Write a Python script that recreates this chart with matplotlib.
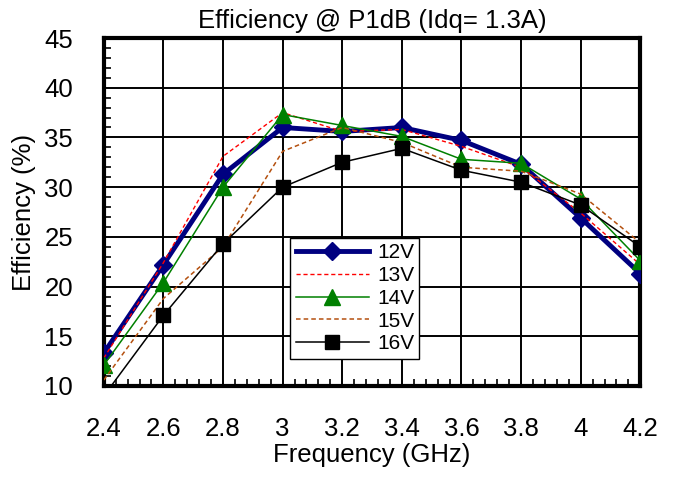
import matplotlib
matplotlib.use("Agg")
import matplotlib.pyplot as plt
from matplotlib.ticker import MultipleLocator

plt.rcParams['font.family'] = ['Liberation Sans', 'DejaVu Sans']

freq = [2.4, 2.6, 2.8, 3.0, 3.2, 3.4, 3.6, 3.8, 4.0, 4.2]
eff_12v = [13.3, 22.2, 31.3, 36.0, 35.6, 36.0, 34.7, 32.3, 26.9, 21.3]
eff_13v = [12.8, 22.4, 33.1, 37.5, 35.6, 35.8, 34.1, 32.0, 27.4, 22.2]
eff_14v = [12.1, 20.4, 30.0, 37.3, 36.2, 35.1, 32.8, 32.4, 28.8, 22.6]
eff_15v = [10.6, 18.8, 24.0, 33.6, 36.0, 34.5, 32.0, 31.6, 29.3, 24.4]
eff_16v = [9.0, 17.1, 24.3, 30.0, 32.5, 33.9, 31.7, 30.5, 28.2, 24.0]
labels = ['12V', '13V', '14V', '15V', '16V']
xticks = [2.4, 2.6, 2.8, 3.0, 3.2, 3.4, 3.6, 3.8, 4.0, 4.2]
xticklabels = ['2.4', '2.6', '2.8', '3', '3.2', '3.4', '3.6', '3.8', '4', '4.2']
yticks = [10, 15, 20, 25, 30, 35, 40, 45]

fig = plt.figure(figsize=(6.74, 4.78), dpi=100)
ax = fig.add_axes([0.154, 0.1925, 0.796, 0.728])

ax.plot(freq, eff_12v, color='#000080', lw=3.5, marker='D', ms=9.5,
        label=labels[0], zorder=3)
ax.plot(freq, eff_13v, color='#FF0000', lw=1.0, ls=(0, (3, 2)),
        label=labels[1], zorder=4)
ax.plot(freq, eff_14v, color='#008000', lw=1.1, marker='^', ms=12,
        label=labels[2], zorder=5)
ax.plot(freq, eff_15v, color='#B4500F', lw=1.1, ls=(0, (3, 2)),
        label=labels[3], zorder=6)
ax.plot(freq, eff_16v, color='#000000', lw=1.1, marker='s', ms=9.5,
        label=labels[4], zorder=7)

ax.set_xlim(2.4, 4.2)
ax.set_ylim(10, 45)
ax.set_xticks(xticks)
ax.set_xticklabels(xticklabels)
ax.set_yticks(yticks)
ax.xaxis.set_minor_locator(MultipleLocator(0.04))
ax.yaxis.set_minor_locator(MultipleLocator(1))
ax.tick_params(axis='both', which='major', length=0, labelsize=18.5)
ax.tick_params(axis='x', which='major', pad=22)
ax.tick_params(axis='y', which='major', pad=22)
ax.tick_params(axis='both', which='minor', direction='in', length=5, width=1.2)
ax.grid(True, which='major', color='black', lw=1.4)
for s in ax.spines.values():
    s.set_linewidth(3)

ax.set_title('Efficiency @ P1dB (Idq= 1.3A)', fontsize=18.5, pad=7)
ax.set_xlabel('Frequency (GHz)', fontsize=18.5, labelpad=2)
ax.set_ylabel('Efficiency (%)', fontsize=18.5, labelpad=6)

leg = ax.legend(loc='upper left', bbox_to_anchor=(0.348, 0.425), fontsize=15,
                frameon=True, fancybox=False, edgecolor='black',
                framealpha=1, handlelength=3.5, handletextpad=0.4,
                labelspacing=0.18, borderpad=0.25, borderaxespad=0)
leg.get_frame().set_linewidth(1)
leg.set_zorder(10)

fig.savefig('out.png', dpi=100)
